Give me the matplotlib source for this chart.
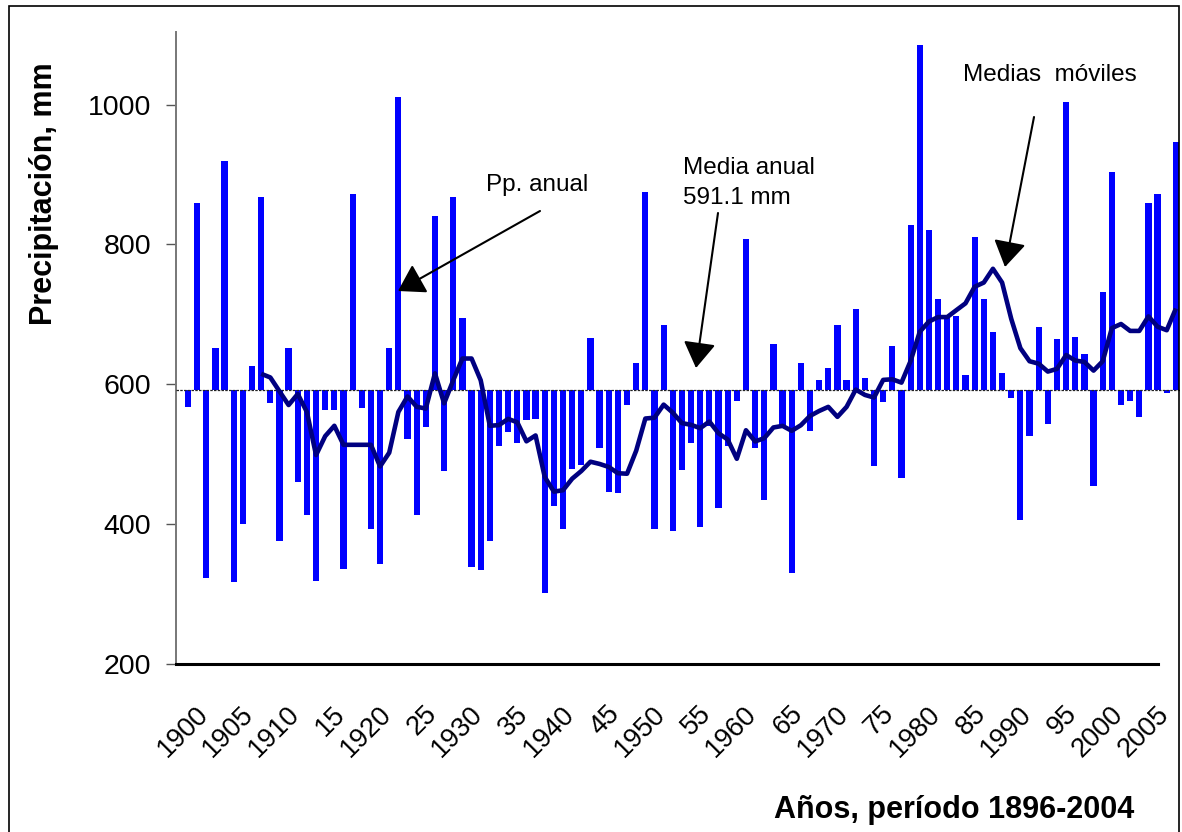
import numpy as np
import matplotlib
matplotlib.use('Agg')
import matplotlib.pyplot as plt
from matplotlib.patches import Rectangle

plt.rcParams['font.family'] = ['Liberation Sans', 'DejaVu Sans']

# ---------------- data ----------------
years = list(range(1896, 2005))
precip = [567, 859, 322, 651, 919, 316, 400, 626, 868, 573,
          375, 651, 460, 413, 318, 563, 563, 335, 872, 566,
          393, 342, 651, 1011, 522, 413, 539, 841, 475, 868,
          695, 338, 334, 375, 512, 532, 515, 549, 550, 301,
          426, 393, 479, 484, 666, 508, 446, 444, 570, 630,
          875, 393, 684, 390, 477, 515, 396, 540, 423, 512,
          576, 807, 509, 434, 657, 538, 329, 630, 533, 606,
          623, 684, 606, 708, 609, 482, 574, 654, 465, 827,
          1085, 820, 722, 698, 698, 613, 810, 722, 674, 616,
          580, 406, 525, 681, 543, 664, 1004, 667, 643, 454,
          732, 903, 570, 576, 553, 859, 872, 587, 947]
mean_annual = 591.1
ma_years = list(range(1904, 2005))
moving_avg = [614.6, 609.4, 589.6, 569.9, 585.7, 560, 498.3, 525.4, 540.2, 513,
              513, 513, 513, 482, 501.7, 560, 582.2, 567.4, 564.9, 615.3,
              572.3, 605.4, 636.5, 636.5, 605.4, 540.2, 541.2, 550.1, 545.2, 518,
              526.4, 467, 446, 448, 464.5, 475.5, 488.8, 485.6, 481.3, 472.3,
              471.6, 504.6, 550.6, 551.8, 570.5, 559, 544, 541.6, 536.8, 546.3,
              529.5, 520.6, 493, 533.8, 517.8, 522.5, 537.8, 540.1, 533, 541,
              554.3, 561.4, 567.3, 553, 567.3, 592, 584.4, 580.6, 605.9, 606.8,
              602, 633, 674.7, 689.4, 695.8, 695.8, 705.7, 715.5, 739.2, 745.2,
              764.9, 745.2, 693.3, 651.3, 632.6, 629.1, 617.8, 621.7, 641.5, 633.6,
              631.6, 619.2, 632.6, 680, 685.9, 676, 676, 696.8, 682, 677, 708.1]
label_years = list(range(1900, 2006, 5))
label_texts = ['1900', '1905', '1910', '15', '1920', '25', '1930', '35', '1940', '45',
               '1950', '55', '1960', '65', '1970', '75', '1980', '85', '1990', '95',
               '2000', '2005']
y_ticks = [200, 400, 600, 800, 1000]

# ---------------- figure ----------------
W, H = 1182, 832
fig = plt.figure(figsize=(W / 100, H / 100), dpi=100)
fig.patch.set_facecolor('white')
ax = fig.add_axes([176 / W, (H - 663.5) / H, (1180 - 176) / W, (663.5 - 32) / H])
ax.set_xlim(1894.69, 2004.45)
ax.set_ylim(200, 1103.8)

heights = np.array(precip, dtype=float) - mean_annual
ax.bar(years, heights, bottom=mean_annual, width=0.68, color='#0000FF', zorder=2)
ax.axhline(mean_annual, color='#222222', lw=0.9, ls=(0, (2, 1)), zorder=3)
ax.plot(ma_years, moving_avg, color='#000080', lw=3.3, zorder=4,
        solid_joinstyle='round', solid_capstyle='butt')

for s in ['top', 'right', 'bottom']:
    ax.spines[s].set_visible(False)
ax.spines['left'].set_color('#777777')
ax.spines['left'].set_linewidth(1.4)
# x axis line (ends before right border, as in the original)
ax.plot([0, (1158 - 176) / (1180 - 176)], [0, 0], transform=ax.transAxes,
        color='black', lw=2.2, clip_on=False, zorder=5)

ax.set_yticks(y_ticks)
ax.set_yticklabels([str(v) for v in y_ticks], fontsize=20.5)
ax.tick_params(axis='y', length=7.2, width=1.0, color='#555555', pad=10.5)
ax.set_xticks([])

# x category labels, rotated
for yr, lab in zip(label_years, label_texts):
    ax.annotate(lab, xy=(yr, 200), xycoords='data', xytext=(-29.5, -37.5),
                textcoords='offset pixels', rotation=45, ha='right', va='top',
                rotation_mode='anchor', fontsize=19.5, annotation_clip=False)

fig.canvas.draw()


def P(px, py):
    return ax.transData.inverted().transform((px, H - py))


arrow_kw = dict(arrowstyle='-|>,head_length=0.8,head_width=0.5', color='black',
                lw=1.5, mutation_scale=20, shrinkA=0, shrinkB=0)
ax.annotate('', xy=P(398, 291), xytext=P(540, 211), arrowprops=arrow_kw,
            annotation_clip=False, zorder=6)
ax.annotate('', xy=P(696, 368), xytext=P(718, 213), arrowprops=arrow_kw,
            annotation_clip=False, zorder=6)
ax.annotate('', xy=P(1005, 267), xytext=P(1034, 117), arrowprops=arrow_kw,
            annotation_clip=False, zorder=6)

tx, ty = P(486, 174)
ax.text(tx, ty, 'Pp. anual', fontsize=17.5, ha='left', va='top', zorder=6)
tx, ty = P(683, 157.5)
ax.text(tx, ty, 'Media anual\n591.1 mm', fontsize=17.5, ha='left', va='top',
        linespacing=1.45, zorder=6)
tx, ty = P(963, 63.5)
ax.text(tx, ty, 'Medias  móviles', fontsize=17.5, ha='left', va='top', zorder=6)

fig.text(44 / W, 1 - 194 / H, 'Precipitación, mm', rotation=90, ha='center',
         va='center', fontsize=22, fontweight='bold')
fig.text(954 / W, 1 - 818 / H, 'Años, período 1896-2004', ha='center',
         va='baseline', fontsize=22, fontweight='bold')

fig.add_artist(Rectangle((9.5 / W, -0.05), (1178.5 - 9.5) / W, (1 - 6 / H) + 0.05,
                         transform=fig.transFigure, fill=False, ec='black', lw=1.2))

fig.savefig('out.png', dpi=100)
